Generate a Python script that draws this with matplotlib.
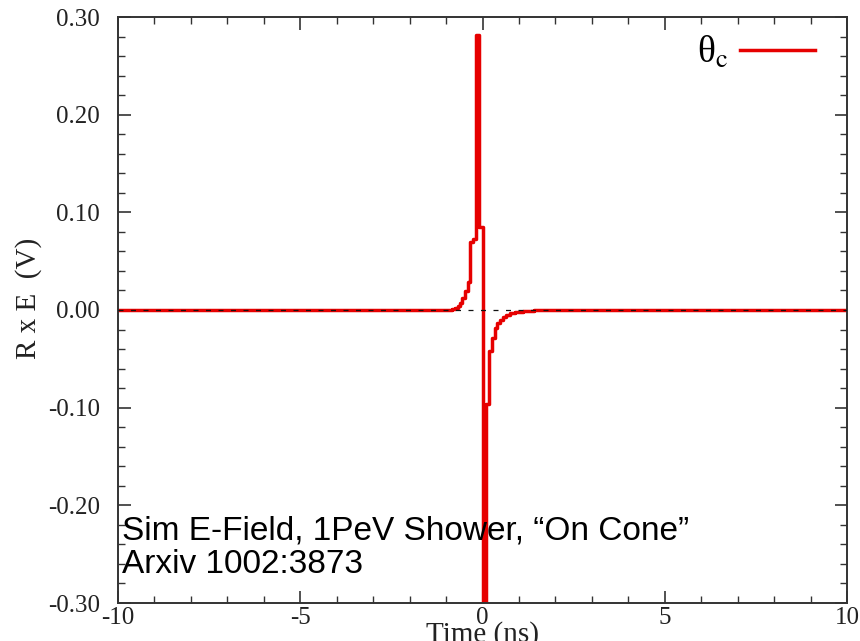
import matplotlib
matplotlib.use('Agg')
import matplotlib.pyplot as plt
from matplotlib.ticker import MultipleLocator, FormatStrFormatter

# ── Data: step trace of the simulated E-field (left bin edges, ns) ──
t_edges = [-10.0, -1.0, -0.85, -0.75, -0.68, -0.62, -0.55, -0.48, -0.41,
           -0.34, -0.25, -0.165, -0.09, 0.0, 0.09, 0.18, 0.26, 0.33, 0.40,
           0.48, 0.55, 0.65, 0.75, 0.9, 1.1, 1.4, 10.0]
rxe = [0.0, 0.0005, 0.001, 0.002, 0.004, 0.007, 0.012, 0.019, 0.029,
       0.070, 0.073, 0.282, 0.085, -0.45, -0.096, -0.042, -0.029, -0.018,
       -0.013, -0.010, -0.007, -0.005, -0.003, -0.002, -0.001, 0.0, 0.0]

x_ticks = [-10, -5, 0, 5, 10]
y_ticks = [-0.30, -0.20, -0.10, 0.00, 0.10, 0.20, 0.30]
legend_label = '\u03b8$_{\\rm c}$'
note_lines = ['Sim E-Field, 1PeV Shower, \u201cOn Cone\u201d', 'Arxiv 1002:3873']

RED = '#e60000'
AXC = '#333333'

plt.rcParams.update({
    'font.family': 'serif',
    'font.serif': ['Liberation Serif', 'DejaVu Serif'],
    'mathtext.fontset': 'stix',
    'axes.unicode_minus': False,
    'axes.edgecolor': AXC,
    'axes.linewidth': 1.4,
    'xtick.color': AXC,
    'ytick.color': AXC,
    'xtick.labelcolor': '#222',
    'ytick.labelcolor': '#222',
})

fig = plt.figure(figsize=(8.6, 6.41), dpi=100)
ax = fig.add_axes([118/860, 38/641, 729/860, 586/641])

ax.plot(t_edges, rxe, drawstyle='steps-post', color=RED, lw=2.5,
        label=legend_label, zorder=2)
ax.axhline(0, color='#111', lw=0.9, ls=(0, (4, 6)), zorder=3)

ax.set_xlim(-10, 10)
ax.set_ylim(-0.30, 0.30)
ax.set_xticks(x_ticks)
ax.set_yticks(y_ticks)
ax.xaxis.set_minor_locator(MultipleLocator(1))
ax.yaxis.set_minor_locator(MultipleLocator(0.02))
ax.yaxis.set_major_formatter(FormatStrFormatter('%.2f'))
ax.tick_params(which='both', direction='in', top=True, right=True,
               labelsize=18)
ax.tick_params(which='major', length=9, width=1.2)
ax.tick_params(which='minor', length=5, width=1.0)
ax.tick_params(axis='y', which='major', pad=13)
ax.tick_params(axis='x', which='major', pad=3)

ax.set_xlabel('Time (ns)', fontsize=21, color='#222')
ax.xaxis.set_label_coords(0.5, -0.031)
ax.set_ylabel('R x E  (V)', fontsize=21, color='#222')
ax.yaxis.set_label_coords(-0.104, 0.52)

ax.legend(loc='center right', frameon=False, markerfirst=False,
          fontsize=27, handlelength=2.0, handletextpad=0.3,
          borderpad=0, borderaxespad=0,
          bbox_to_anchor=(0.956, 0.938))

ax.text(0.005, 0.123, note_lines[0], transform=ax.transAxes,
        fontsize=24, family='Liberation Sans', va='center', ha='left',
        color='black', zorder=5)
ax.text(0.005, 0.065, note_lines[1], transform=ax.transAxes,
        fontsize=24, family='Liberation Sans', va='center', ha='left',
        color='black', zorder=5)

fig.savefig('out.png', dpi=100, facecolor='white')
